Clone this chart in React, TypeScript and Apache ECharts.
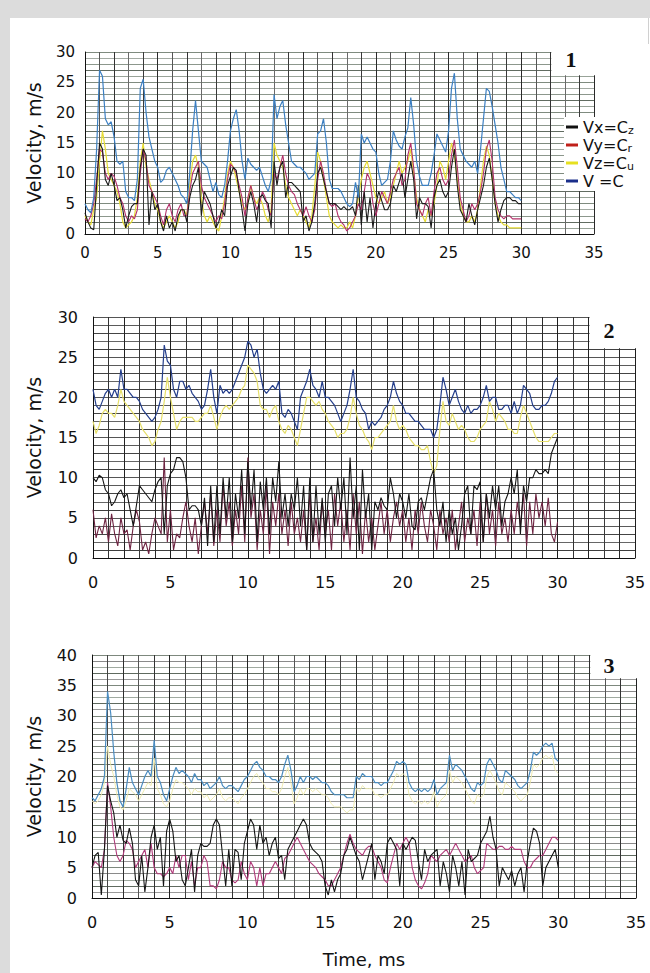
import React, { useEffect, useRef } from "react";
import * as echarts from "echarts";

// sampling times, ms
const TIME = [
  0, 0.2, 0.4, 0.6, 0.8, 1, 1.2, 1.4, 1.6, 1.8, 2, 2.2, 2.4, 2.6, 2.8, 3, 3.2, 3.4, 3.6, 3.8,
  4, 4.2, 4.4, 4.6, 4.8, 5, 5.2, 5.4, 5.6, 5.8, 6, 6.2, 6.4, 6.6, 6.8, 7, 7.2, 7.4, 7.6, 7.8,
  8, 8.2, 8.4, 8.6, 8.8, 9, 9.2, 9.4, 9.6, 9.8, 10, 10.2, 10.4, 10.6, 10.8, 11, 11.2, 11.4, 11.6, 11.8,
  12, 12.2, 12.4, 12.6, 12.8, 13, 13.2, 13.4, 13.6, 13.8, 14, 14.2, 14.4, 14.6, 14.8, 15, 15.2, 15.4, 15.6, 15.8,
  16, 16.2, 16.4, 16.6, 16.8, 17, 17.2, 17.4, 17.6, 17.8, 18, 18.2, 18.4, 18.6, 18.8, 19, 19.2, 19.4, 19.6, 19.8,
  20, 20.2, 20.4, 20.6, 20.8, 21, 21.2, 21.4, 21.6, 21.8, 22, 22.2, 22.4, 22.6, 22.8, 23, 23.2, 23.4, 23.6, 23.8,
  24, 24.2, 24.4, 24.6, 24.8, 25, 25.2, 25.4, 25.6, 25.8, 26, 26.2, 26.4, 26.6, 26.8, 27, 27.2, 27.4, 27.6, 27.8,
  28, 28.2, 28.4, 28.6, 28.8, 29, 29.2, 29.4, 29.6, 29.8, 30,
];

const X_TICKS = [0, 5, 10, 15, 20, 25, 30, 35];
const SERIES_NAMES = ["Vx=Cz", "Vy=Cr", "Vz=Cu", "V =C"];
const PANEL_LABELS = ["1", "2", "3"];
const Y_MAX = [30, 30, 40];

// ---------- Panel 1 ----------
const P1_V = [
  5, 4, 3.5, 6, 14, 27, 26, 19, 18, 18.5, 16, 12, 11.5, 12, 7, 6, 6, 5.5, 9, 24,
  25.5, 20, 16, 14, 12, 11, 8.5, 9, 10.5, 11, 10, 9, 8, 6.5, 6, 5, 10, 17, 22, 17,
  12, 11.5, 11, 9, 7, 8.5, 6.5, 6, 8, 12, 17, 19, 20.5, 17, 12, 9, 12.5, 11.5, 11, 10.5,
  11, 9.5, 8, 7, 9, 23, 19, 21, 22, 18, 15, 12, 11.5, 11, 11, 10.5, 10, 9, 9.5, 10,
  16.5, 17, 19, 15, 9, 7.5, 7.5, 7.5, 7, 6, 5, 4.5, 5, 8.5, 6, 16.5, 15, 16, 15, 14,
  13.5, 10, 8, 8.5, 9, 12, 17, 15.5, 14.5, 14, 16, 17.5, 22.5, 18, 12, 9.5, 8, 8, 8, 10,
  13, 16.5, 15.5, 14.5, 13.5, 17, 24, 26.5, 19, 14, 13, 12, 11.5, 11, 12, 10, 14, 19, 24, 23.5,
  21, 18, 15, 11, 9, 7, 7, 6.5, 6, 6, 5.5,
];
const P1_VX = [
  3.5, 2, 1, 0.7, 8, 15, 14, 9, 8, 10, 8, 5.5, 6, 4, 1, 3, 4.5, 5, 5, 11,
  14, 13, 1.5, 7, 4, 5, 2, 0.5, 3, 1, 2, 0.5, 3, 4, 4, 2, 6, 8, 9, 11,
  3, 7, 6, 5, 3, 1, 2, 4, 3, 8, 9.5, 11, 10.5, 7, 4, 0.5, 5, 7, 5, 2,
  6, 6.5, 5.5, 5, 1, 12, 8, 11, 12, 6, 8.5, 8.5, 8, 7.5, 7, 2, 3, 0.5, 2, 5,
  10, 11, 9, 7, 5, 5, 5, 4.5, 4, 4.5, 4, 4, 4.5, 3, 8, 1.5, 7, 2, 6, 1,
  5, 7, 5.5, 4, 4, 5, 8, 7, 8.5, 10, 6, 9, 12, 9, 2.5, 6, 5, 5, 4.5, 1,
  6, 8, 9, 7, 6, 7, 11, 14, 8, 4, 3, 2, 5, 3, 1.5, 4, 6, 8, 11, 12.5,
  9, 5, 2, 4, 5.5, 6, 6, 5.5, 5.5, 5, 5,
];
const P1_VY = [
  2.5, 2, 3, 5, 9, 14, 13.5, 10, 9, 10, 9.5, 8, 6, 5, 3, 2, 3, 2.5, 4, 10,
  14, 12, 8, 7, 6, 5, 3, 1.5, 4, 5, 3, 2, 4, 5, 3, 3, 7, 10, 11, 12,
  8, 6, 5, 4, 3, 2, 3, 2.5, 5, 9, 11.5, 11, 10, 8, 6, 3, 6, 8, 6, 4,
  5, 7, 6, 4, 3, 10, 9, 11, 13, 10, 8, 7, 6.5, 5, 4, 3, 4.5, 3, 2, 4,
  9, 12, 10, 7, 5, 4.5, 5, 3, 2, 1.5, 0.5, 1, 2, 3, 5, 4, 7, 10, 9, 5,
  3, 5, 7, 6, 5, 7, 9, 10, 11, 8, 9, 13, 15, 11, 5, 4, 3, 5, 6, 3,
  7, 10, 11, 9, 8, 9, 13, 15.5, 11, 6, 4, 2, 3, 5, 4, 5, 7, 10, 14, 15.5,
  12, 6, 4, 3, 2.5, 3, 3, 2.5, 2.5, 2.5, 2.5,
];
const P1_VZ = [
  3, 2, 1.5, 4, 6, 12, 17, 14, 10, 9, 8, 7, 5, 2, 1, 1.5, 2, 3, 6, 12,
  15, 11, 9, 7, 5, 4, 2, 1, 2, 3, 2, 1, 2, 4, 4, 3, 8, 12, 13, 11,
  6, 3, 2, 3, 2, 1, 0.5, 3, 6, 10, 12, 11, 9, 7, 5, 4, 5, 8, 6, 5,
  6, 5, 3, 2, 4, 15, 13, 12, 11, 8, 6, 5, 4, 3, 4, 3, 2, 1, 3, 8,
  13.5, 12, 9, 6, 3, 2, 1.5, 1, 1.5, 1, 1, 2, 1, 3, 6, 9, 11, 12, 10, 8,
  6, 5, 6, 7, 5, 6, 8, 10, 12, 10, 11, 12, 14, 10, 6, 4, 3, 2, 4, 3,
  5, 8, 12, 11, 9, 12, 15, 13, 9, 5, 3, 2, 2, 3, 2, 4, 8, 12, 14.5, 13,
  9, 5, 3, 2, 1.5, 1.5, 1, 1, 1, 1, 1,
];

// ---------- Panel 2 ----------
const P2_V = [
  21, 19, 18.5, 19.5, 20.5, 21, 20, 21, 20, 23.5, 21, 21, 20.5, 20, 20, 19.5, 18.5, 18, 17.5, 17,
  17.5, 18.5, 20, 26.5, 24.5, 24, 21, 20, 22, 22, 21, 21.5, 20.5, 20, 19.5, 18.5, 19, 21, 23.5, 20,
  18, 21.5, 20.5, 21, 20.5, 21, 22, 23, 24, 25, 27, 26.5, 25, 26, 23, 21, 20.5, 21, 21.5, 21,
  22, 18, 17.5, 18.5, 18, 17, 16, 20, 21, 22, 23.5, 21.5, 21, 20, 22, 20, 20, 19.5, 19, 18,
  17, 18, 19, 21, 23.5, 20, 19.5, 18.5, 18, 16, 17, 16.5, 17, 17.5, 18.5, 19, 20, 22, 20.5, 19.5,
  19, 18, 18, 17.5, 17, 17, 16.5, 16, 16, 16, 15, 16, 19, 22.5, 21, 19, 20, 21, 19.5, 18.5,
  18, 19, 18, 18.5, 18.5, 19, 20, 21.5, 19.5, 20, 20, 18.5, 18.5, 19, 19, 18, 19.5, 18, 19, 21.5,
  21, 20.5, 19, 18.5, 18.5, 19, 19, 19.5, 20.5, 22, 22.5,
];
const P2_VZ = [
  17, 15.5, 16.5, 18, 18.5, 18, 18, 17.5, 19, 21, 19.5, 19, 18.5, 18, 17.5, 17, 16, 15.5, 15, 14,
  14.5, 16, 17, 19.5, 22.5, 20, 18, 16, 17, 17.5, 17.5, 17.5, 17.5, 17, 17, 17.5, 18, 18, 19, 17.5,
  16, 17.5, 18.5, 19, 18.5, 19, 19.5, 20, 21, 21.5, 24, 23.5, 23, 22, 19, 18.5, 18.5, 17.5, 18.5, 19,
  17, 16, 15.5, 16.5, 16, 15, 14, 16, 18, 20, 20, 19.5, 19, 19.5, 18.5, 18, 17, 16.5, 16, 15,
  15.5, 15.5, 16, 17.5, 20, 18, 16.5, 16, 15, 14.5, 13.5, 15, 15, 15.5, 16, 16.5, 17, 19, 17, 16,
  16.5, 16, 15, 14.5, 14, 14, 13.5, 13.5, 14, 12, 10.5, 11.5, 16, 19.5, 17, 16.5, 18, 17, 16, 16.5,
  16, 15, 14.5, 14.5, 15, 16, 16.5, 17, 19.5, 18.5, 17, 18, 17.5, 17, 16, 16, 15.5, 15.5, 17.5, 19,
  18, 17, 16, 15, 14.5, 14.5, 14.5, 14.5, 15, 15.5, 15.5,
];
const P2_VX = [
  10, 9.5, 10.3, 10, 8.5, 8, 6.5, 7, 8, 8.5, 7.5, 8, 6, 4, 6.5, 9, 8.5, 8, 7.5, 7,
  8.5, 9.5, 10, 3, 9, 10.5, 11, 12.5, 12.5, 12, 10, 6, 6.5, 6.5, 6, 4, 7.5, 1.5, 9, 2,
  9, 3, 10, 5, 10, 2, 8, 5, 11, 3, 12, 6, 11, 2, 9.5, 6, 10, 3, 10, 7,
  12, 5, 8, 4, 8, 6, 10, 4, 9, 1, 10, 2, 9, 3, 7.5, 2, 8, 9, 4, 10,
  6, 10, 3, 12.5, 5, 9, 1, 11, 5, 8, 1, 7, 6, 7.5, 6.5, 6, 10, 8, 5, 8,
  7, 5, 8, 4, 3.5, 7, 7.5, 6, 8, 10, 11, 6, 4, 7, 2, 6, 3, 5, 1, 4,
  8, 9, 3, 9, 8.5, 9.5, 2, 8, 5, 9, 6, 9, 4, 7, 8, 10, 8, 11, 3, 9,
  7, 10, 10, 11, 10.5, 10.5, 11, 10.5, 13, 14, 15,
];
const P2_VY = [
  6, 2.5, 4, 3, 5, 2, 5.5, 3, 1.5, 5, 3, 3.5, 1, 4, 6, 4.5, 1, 2, 0.5, 3,
  5, 4, 3, 12.5, 2, 6, 1, 3, 2.5, 5, 7, 4, 2, 5, 0.5, 4, 7, 3, 8, 1.5,
  6, 2, 9, 4, 7, 1.5, 6, 3, 9, 2, 12.5, 5, 8, 1, 6, 3, 9, 0.5, 7, 4,
  8, 3, 6, 1.5, 7, 3, 5, 2, 6, 1, 8, 2, 5, 1, 7, 3, 6, 1, 8, 4,
  7, 2, 6, 1, 8, 3, 7, 0.5, 6, 2, 5, 1, 4, 7, 3, 6, 2, 5, 7, 4,
  6, 2, 5, 1, 6, 3, 7, 4, 2, 6, 4, 1, 6, 3, 5, 2, 6, 1, 4, 7,
  2, 5, 3, 6, 1.5, 7, 2, 8, 3, 6, 1.5, 7, 3, 5, 2, 6, 3, 7, 4, 8,
  1.5, 7, 3, 8, 5, 7, 4, 7.5, 3, 2, 4.5,
];

// ---------- Panel 3 ----------
const P3_V = [
  16.5, 16, 17, 18, 20, 34, 30.5, 24, 19, 16, 15, 18, 21.5, 19, 18, 17, 18.5, 20, 21, 20,
  26, 20, 19, 17, 16, 18, 20, 21.5, 20.5, 21, 20.5, 20, 19, 20.5, 19.5, 19.5, 18.5, 19, 18, 18.5,
  19, 20, 18.5, 18, 18.5, 18.5, 18, 17.5, 18.5, 19.5, 20, 21, 22, 22.5, 21.5, 21, 20, 20, 19.5, 19.5,
  19, 20, 22, 23.5, 21, 17.5, 18.5, 20, 19, 20, 20, 19.5, 20, 19.5, 19, 19, 18.5, 17.5, 17, 17,
  17, 17, 16.5, 16.5, 16.5, 20, 19.5, 20.5, 20, 20, 20, 19, 19, 18.5, 19, 19, 20, 21, 22.5, 22,
  22.5, 22, 19, 18, 17.5, 18, 17.5, 18, 17.5, 18, 19.5, 17, 18, 18.5, 19, 23.5, 21, 22, 21.5, 21,
  20, 19, 18, 17.5, 19, 18.5, 19, 22, 23, 22, 21, 19.5, 19, 21, 20.5, 20, 19.5, 18.5, 18, 18.5,
  19, 21, 24, 23.5, 24, 25, 25.5, 25, 25.5, 23, 22.5,
];
const P3_VZ = [
  16, 15.5, 16, 17, 19, 25, 22, 20, 17, 15, 14.5, 16, 18, 17.5, 17, 16, 17, 18, 19, 18.5,
  23, 18, 17, 15.5, 15, 16, 18, 19.5, 19, 19, 18.5, 18, 17, 18, 17.5, 17.5, 16.5, 17, 16, 16.5,
  17, 18, 16.5, 16, 16.5, 16.5, 16, 15.5, 16.5, 17, 18, 19, 20, 20.5, 19.5, 19, 18, 18, 17.5, 17.5,
  17, 18, 20, 21.5, 19, 15.5, 16.5, 18, 17, 18, 18, 17.5, 18, 17.5, 17, 17, 16.5, 15.5, 15, 15,
  15, 14.5, 14, 14.5, 14.5, 18, 17.5, 18.5, 18, 18, 18, 17, 17, 16.5, 17, 17, 18, 19, 20.5, 20,
  20.5, 20, 17, 16, 15.5, 16, 15.5, 16, 15.5, 16, 17.5, 15, 16, 16.5, 17, 21, 19, 20, 19.5, 19,
  18, 17, 16, 15.5, 17, 16.5, 17, 20, 21, 20, 19, 17.5, 17, 19, 18.5, 18, 17.5, 16.5, 16, 16.5,
  17, 19, 22, 21.5, 22, 23, 23.5, 23, 23.5, 21, 20.5,
];
const P3_VX = [
  5, 7, 7.5, 0.5, 8, 18.5, 16, 14, 10, 12, 9.5, 9, 11.5, 9, 3, 2, 7, 1, 5, 10,
  12, 8, 10, 2, 11, 13, 11, 6, 7, 3, 2, 5, 8, 1, 7, 9, 8.5, 8.5, 9, 12,
  13, 12, 7, 2, 8, 2, 8, 7.5, 3, 9, 11, 13, 12, 8, 12, 9, 10, 7, 9, 10,
  6.5, 7, 3, 8, 9, 10, 11, 12, 13, 12, 9, 8, 7.5, 7, 6, 2, 0.5, 3, 1, 3,
  4, 7, 8, 10, 8.5, 7, 6, 3, 5, 7, 9, 3, 7, 6, 4, 9, 10, 9, 8, 2,
  9, 8, 9, 10, 9.5, 6, 3, 8, 6, 7, 7.5, 8, 2, 6, 4, 1, 7, 5, 2, 6,
  0.5, 8, 6, 6.5, 7, 9, 10, 11, 13.5, 10, 8, 2, 5, 4, 3, 4.5, 2, 4, 5, 1,
  6, 9, 11.5, 11, 9, 2, 5, 6, 7, 8, 5,
];
const P3_VY = [
  5, 6, 5.5, 5, 8, 19, 15, 10, 7, 6, 7, 9.5, 9, 8, 5, 6, 7, 8, 5, 9,
  5, 4, 4, 3.5, 4, 5, 4, 7, 5, 7, 7, 3, 6, 2, 5, 5, 7, 6, 2, 2,
  1.5, 3, 6, 5, 5, 3, 2.5, 3, 6, 4, 3, 6, 5, 2, 5, 2, 4, 4, 5, 6,
  5, 4, 6.5, 7, 8, 9, 10, 9, 8, 7, 6, 5.5, 5, 4, 3.5, 3, 2, 2, 3, 4,
  5, 7, 9, 10.5, 9, 8, 7.5, 7, 8, 8.5, 8.5, 7, 6, 5, 3, 2.5, 5, 7, 9, 8,
  9, 10, 9, 5, 3, 2, 1.5, 2.5, 4, 7, 6.5, 6, 7, 7.5, 8, 7, 8, 9, 8, 7,
  6, 6.5, 7, 5, 4, 4.5, 5, 9, 8.5, 8, 8, 8.5, 8.5, 8, 8, 8.5, 8, 8, 8, 6,
  5, 5, 6, 6.5, 7, 7, 8, 9, 10, 10, 9.5,
];

const PANELS = [
  { vx: P1_VX, vy: P1_VY, vz: P1_VZ, v: P1_V },
  { vx: P2_VX, vy: P2_VY, vz: P2_VZ, v: P2_V },
  { vx: P3_VX, vy: P3_VY, vz: P3_VZ, v: P3_V },
];

// ---------- layout / style (not data) ----------
const FONT = '"DejaVu Sans", "Liberation Sans", sans-serif';
const GRIDS = [
  { left: 85, top: 52, width: 509, height: 182 },
  { left: 93, top: 317, width: 542, height: 241 },
  { left: 92, top: 655, width: 544, height: 243 },
];
const NOTCH_Y = [26, 26, 36];
const LABEL_POS = [
  [571, 59],
  [609, 330],
  [609, 665],
];
const TICK_FS = [15, 16, 16];
const X_MARGIN = [11, 16, 16];
const Y_MARGIN = [10, 15, 15];
const NAME_GAP = [42, 50, 49];
const COLORS = [
  { vx: "#1a1a1a", vy: "#b3306a", vz: "#e6dc34", v: "#3b7fc2" },
  { vx: "#151515", vy: "#6e2442", vz: "#e6df6a", v: "#253f8c" },
  { vx: "#151515", vy: "#b03a7a", vz: "#efebb0", v: "#4a8cc0" },
];
const H_COLORS = [
  ["#7f8b7f", "#98a398", "#616c61", "#8c978c", "#a3aba3"],
  ["#555", "#3f3f3f", "#666", "#444", "#5a5a5a"],
  ["#7d887d", "#9a9a9a", "#5f6a5f", "#a0aaa0", "#8a8a8a"],
];
const V_COLORS = [
  ["#2a2a2a", "#555", "#333", "#6a6a6a", "#3a3a3a"],
  ["#1e1e1e", "#333", "#222", "#3a3a3a", "#2a2a2a"],
  ["#222", "#444", "#2e2e2e", "#555", "#333"],
];
const LEGEND_RICH: Record<string, string> = {
  "Vx=Cz": "Vx=C{s|z}",
  "Vy=Cr": "Vy=C{s|r}",
  "Vz=Cu": "Vz=C{s|u}",
  "V =C": "V =C",
};
const LEGEND_COLORS = ["#111", "#c0201a", "#e6e020", "#1a2e8a"];

export default function App() {
  const ref = useRef<HTMLDivElement>(null);

  useEffect(() => {
    if (!ref.current) return;
    const chart = echarts.init(ref.current, undefined, { renderer: "svg" });

    const series: any[] = [];
    PANELS.forEach((p, i) => {
      const c = COLORS[i];
      const order: [string, number[], string, number][] = [
        [SERIES_NAMES[2], p.vz, c.vz, i === 2 ? 1 : 1.2],
        [SERIES_NAMES[1], p.vy, c.vy, 1.1],
        [SERIES_NAMES[0], p.vx, c.vx, 1.1],
        [SERIES_NAMES[3], p.v, c.v, 1.2],
      ];
      order.forEach(([name, arr, color, w]) => {
        series.push({
          type: "line",
          name,
          xAxisIndex: i,
          yAxisIndex: i,
          data: TIME.map((t, k) => [t, arr[k]]),
          showSymbol: false,
          symbol: "none",
          lineStyle: { color, width: w },
          itemStyle: { color },
          emphasis: { disabled: true },
        });
      });
    });

    const px = (g: any, v: number) => g.left + (v / 35) * g.width;
    const py = (g: any, v: number, ymax: number) => g.top + ((ymax - v) / ymax) * g.height;

    const graphics: any[] = [
      { type: "rect", z: 100, shape: { x: 0, y: 0, width: 10, height: 973 }, style: { fill: "#dcdcdc" } },
      { type: "rect", z: 100, shape: { x: 0, y: 0, width: 650, height: 18 }, style: { fill: "#dcdcdc" } },
      { type: "rect", z: 100, shape: { x: 648, y: 18, width: 1, height: 26 }, style: { fill: "#d0d0d0" } },
    ];
    GRIDS.forEach((g, i) => {
      const x0 = px(g, 32) + 1;
      const y0 = g.top - 4;
      const y1 = py(g, NOTCH_Y[i], Y_MAX[i]) - 1;
      graphics.push({
        type: "rect",
        z: 100,
        shape: { x: x0, y: y0, width: g.left + g.width + 6 - x0, height: y1 - y0 },
        style: { fill: "#ffffff" },
      });
      graphics.push({
        type: "text",
        z: 101,
        x: LABEL_POS[i][0],
        y: LABEL_POS[i][1],
        style: {
          text: PANEL_LABELS[i],
          font: 'bold 22px "Liberation Serif", serif',
          fill: "#111",
          align: "center",
          verticalAlign: "middle",
        },
      });
    });

    const option: any = {
      animation: false,
      backgroundColor: "#ffffff",
      grid: GRIDS.map((g) => ({ ...g, containLabel: false })),
      xAxis: GRIDS.map((g, i) => ({
        gridIndex: i,
        type: "value",
        min: 0,
        max: 35,
        interval: 1,
        axisLine: { show: true, onZero: false, lineStyle: { color: "#111", width: 1 } },
        axisTick: { show: false },
        axisLabel: {
          formatter: (v: number) => (X_TICKS.includes(v) ? String(v) : ""),
          fontSize: TICK_FS[i],
          fontFamily: FONT,
          color: "#111",
          margin: X_MARGIN[i],
          showMaxLabel: true,
          showMinLabel: true,
        },
        splitLine: { show: true, lineStyle: { color: V_COLORS[i], width: 1 } },
        ...(i === 2
          ? {
              name: "Time, ms",
              nameLocation: "middle",
              nameGap: 52,
              nameTextStyle: { fontSize: 18, fontFamily: FONT, color: "#111" },
            }
          : {}),
      })),
      yAxis: GRIDS.map((g, i) => ({
        gridIndex: i,
        type: "value",
        min: 0,
        max: Y_MAX[i],
        interval: 1,
        name: "Velocity, m/s",
        nameLocation: "middle",
        nameGap: NAME_GAP[i],
        nameTextStyle: { fontSize: 19, fontFamily: FONT, color: "#111" },
        axisLine: { show: true, lineStyle: { color: "#111", width: 1 } },
        axisTick: { show: false },
        axisLabel: {
          formatter: (v: number) => (v % 5 === 0 ? String(v) : ""),
          fontSize: TICK_FS[i],
          fontFamily: FONT,
          color: "#111",
          margin: Y_MARGIN[i],
          showMaxLabel: true,
          showMinLabel: true,
        },
        splitLine: { show: true, lineStyle: { color: H_COLORS[i], width: 1 } },
      })),
      legend: {
        orient: "vertical",
        left: 564,
        top: 117,
        selectedMode: false,
        icon: "rect",
        itemWidth: 12,
        itemHeight: 3,
        itemGap: 1,
        padding: [2, 2, 2, 2],
        backgroundColor: "#ffffff",
        data: SERIES_NAMES.map((n, k) => ({
          name: n,
          itemStyle: { color: LEGEND_COLORS[k] },
          lineStyle: { color: LEGEND_COLORS[k] },
        })),
        formatter: (name: string) => LEGEND_RICH[name] || name,
        textStyle: {
          fontSize: 16,
          fontFamily: FONT,
          color: "#111",
          lineHeight: 14,
          rich: {
            s: { fontSize: 11, fontFamily: FONT, color: "#111", padding: [7, 0, 0, 0] },
          },
        },
      },
      graphic: { elements: graphics },
      series,
    };

    chart.setOption(option);
    return () => chart.dispose();
  }, []);

  return (
    <div
      ref={ref}
      style={{ position: "absolute", left: 0, top: 0, width: 650, height: 973 }}
    />
  );
}
